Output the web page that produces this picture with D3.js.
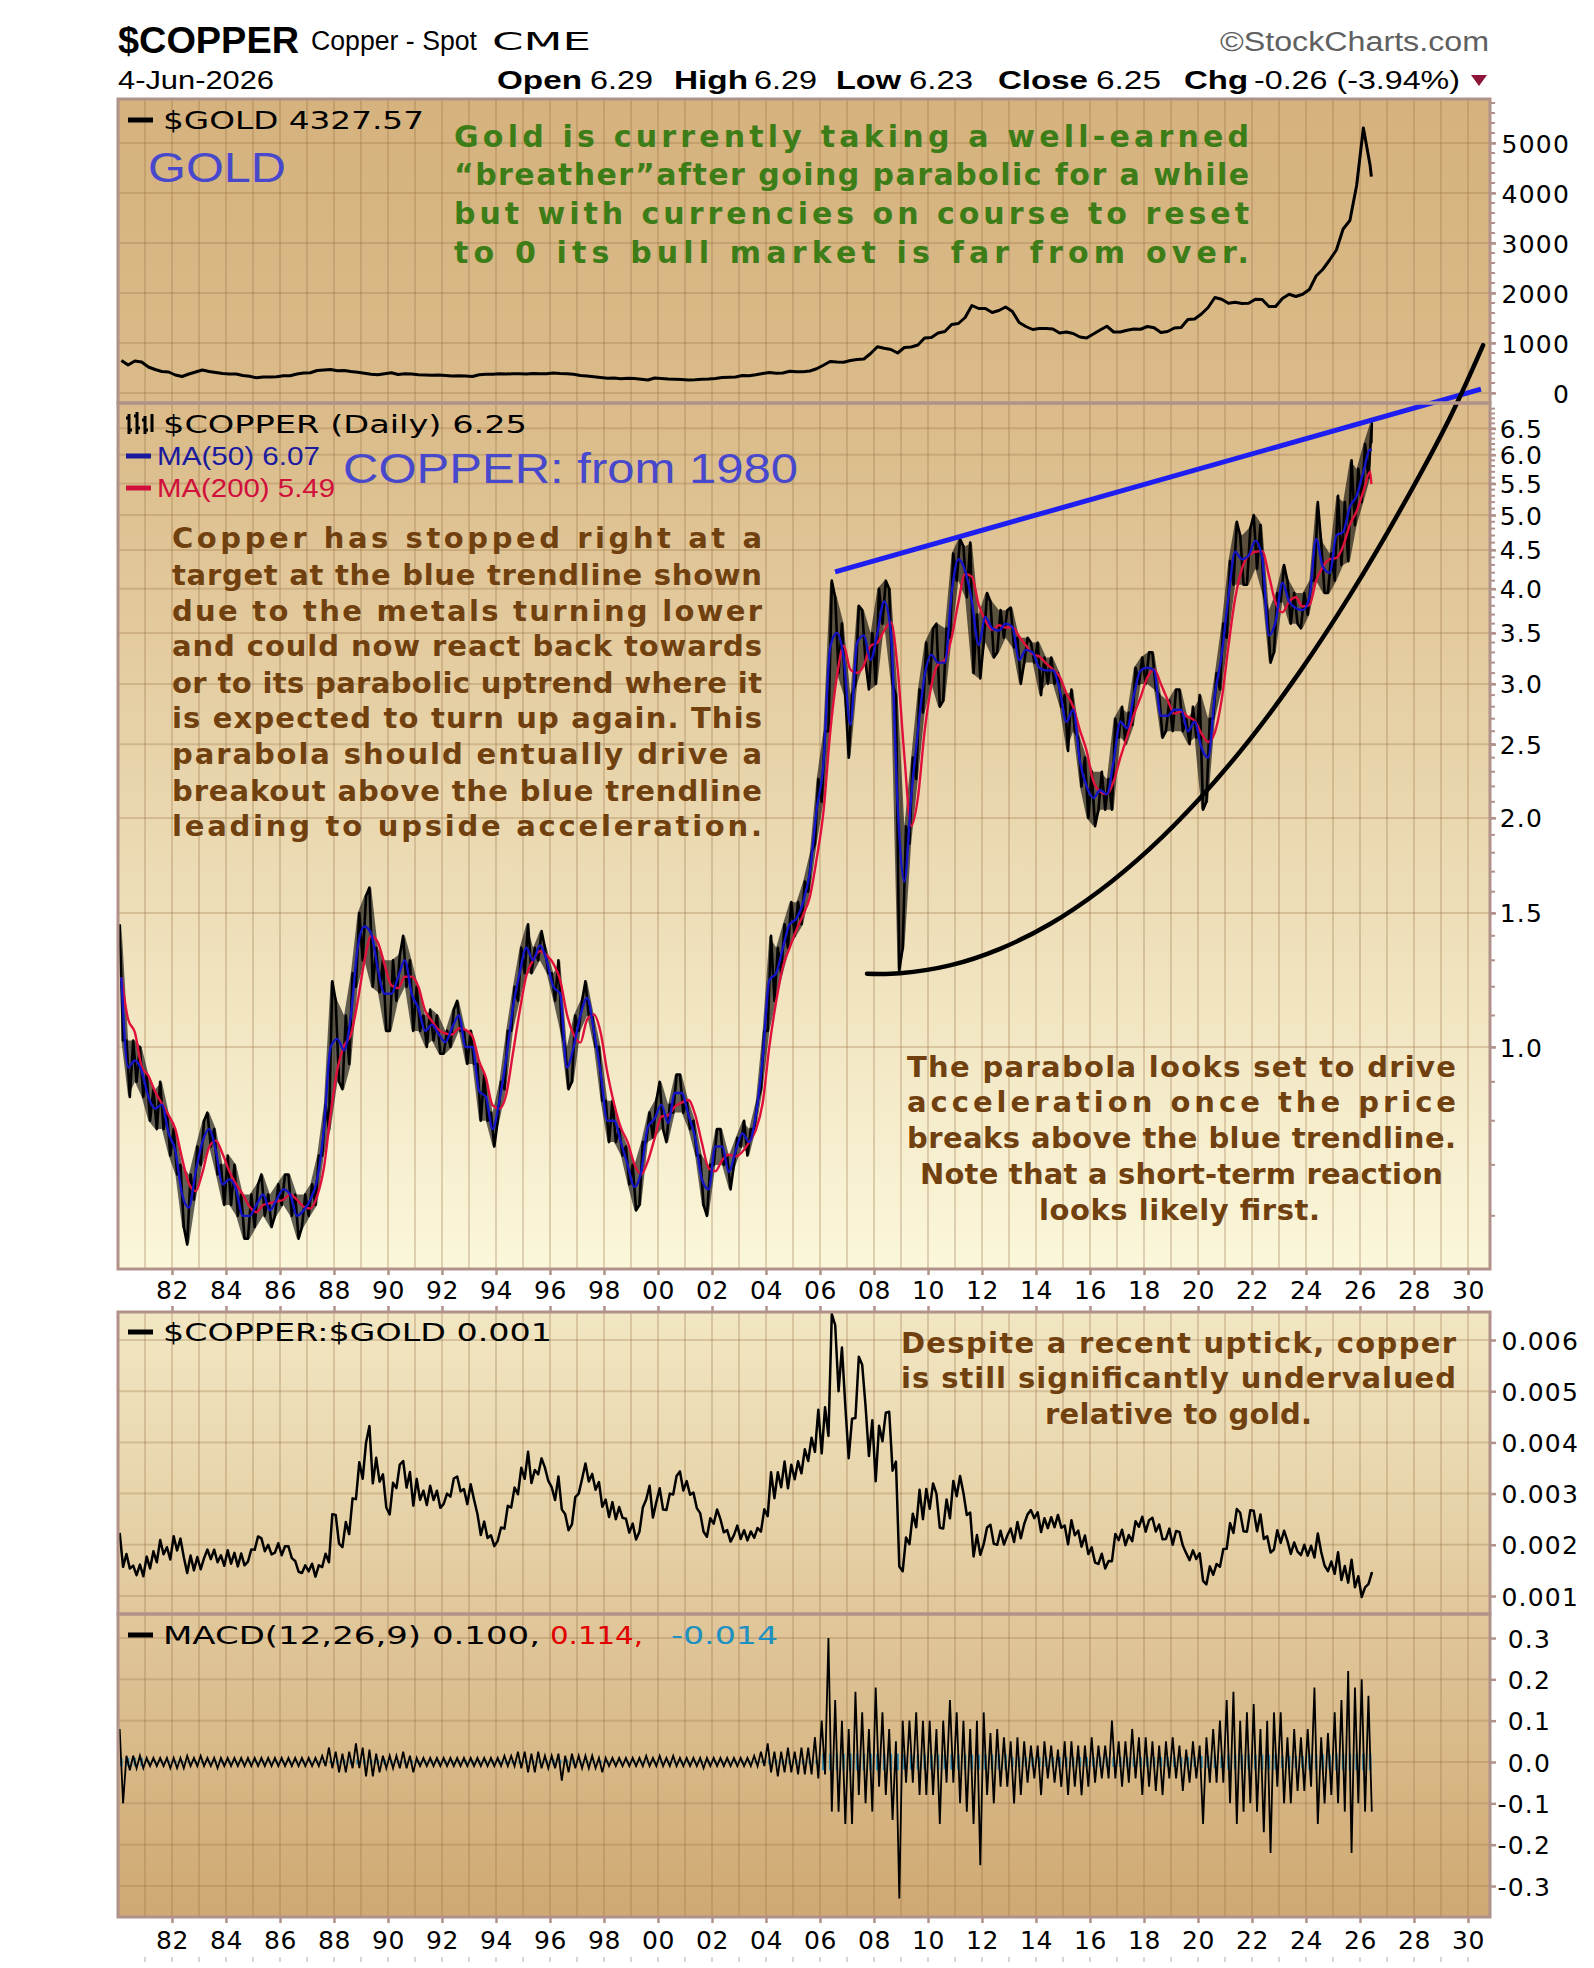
<!DOCTYPE html>
<html>
<head>
<meta charset="utf-8">
<script src="https://cdn.jsdelivr.net/npm/d3@7/dist/d3.min.js"></script>
<style>
html,body{margin:0;padding:0;background:#ffffff;}
</style>
</head>
<body>
<svg id="chart" width="1594" height="1968" xmlns="http://www.w3.org/2000/svg"></svg>
<script>
// ================= DATA =================
const firstYear = 1980;           // quarterly data, first entry = 1980 Q1
const copperLow = [
 1.02,0.86,0.90,0.86, 0.80,0.78,0.78,0.72, 0.68,0.58,0.55,0.63, 0.70,0.74,0.68,0.62, 0.62,0.60,0.56,0.56,
 0.58,0.60,0.58,0.60, 0.62,0.60,0.56,0.58, 0.60,0.62,0.72,0.78, 0.90,0.88,0.95,1.20, 1.30,1.20,1.18,1.05,
 1.05,1.15,1.20,1.05, 1.05,1.00,1.02,0.98, 0.98,1.00,1.05,0.95, 0.95,0.80,0.80,0.74, 0.80,0.88,1.05,1.15,
 1.25,1.25,1.30,1.25, 1.15,1.05,0.88,0.90, 1.05,1.10,1.00,0.85, 0.75,0.75,0.72,0.66, 0.61,0.62,0.75,0.76,
 0.78,0.75,0.82,0.82, 0.78,0.72,0.62,0.60, 0.70,0.70,0.65,0.70, 0.74,0.72,0.78,0.88, 1.05,1.15,1.25,1.35,
 1.40,1.45,1.60,1.85, 2.10,2.60,3.10,2.90, 2.40,3.00,3.20,2.95, 3.00,3.60,3.00,1.26, 1.35,1.85,2.25,2.75,
 3.00,2.80,2.85,3.45, 4.10,3.90,3.10,3.05, 3.40,3.25,3.30,3.45, 3.35,3.00,3.20,3.20, 2.90,3.00,3.00,2.80,
 2.45,2.60,2.20,2.00, 1.95,2.05,2.05,2.05, 2.55,2.50,2.65,3.00, 3.00,2.95,2.55,2.60, 2.60,2.60,2.50,2.55,
 2.05,2.10,2.70,2.95, 3.45,4.05,4.05,4.05, 4.25,3.95,3.20,3.30, 3.85,3.60,3.60,3.55, 3.70,4.10,3.95,3.95,
 4.10,4.30,4.35,4.85, 5.20,5.60
];
const copperHigh = [
 1.45,1.02,1.02,1.00, 0.92,0.88,0.90,0.82, 0.78,0.70,0.68,0.74, 0.80,0.82,0.78,0.70, 0.72,0.70,0.64,0.64,
 0.66,0.68,0.64,0.66, 0.68,0.68,0.64,0.64, 0.66,0.72,0.84,1.22, 1.15,1.10,1.25,1.50, 1.58,1.62,1.35,1.30,
 1.30,1.32,1.40,1.30, 1.20,1.10,1.12,1.10, 1.05,1.12,1.15,1.05, 1.05,0.95,0.92,0.82, 0.90,1.05,1.20,1.35,
 1.45,1.35,1.42,1.35, 1.25,1.30,1.00,1.10, 1.15,1.22,1.10,1.00, 0.85,0.85,0.78,0.74, 0.70,0.75,0.82,0.85,
 0.90,0.84,0.92,0.92, 0.85,0.80,0.72,0.70, 0.78,0.78,0.72,0.76, 0.80,0.78,0.85,1.05, 1.40,1.35,1.45,1.55,
 1.55,1.65,1.80,2.25, 2.60,4.10,3.90,3.60, 2.90,3.80,3.75,3.50, 4.00,4.10,4.00,2.90, 1.95,2.40,2.95,3.40,
 3.55,3.60,3.55,4.45, 4.65,4.55,4.60,3.70, 3.95,3.85,3.75,3.75, 3.78,3.45,3.45,3.40, 3.40,3.25,3.25,3.10,
 2.90,2.95,2.55,2.40, 2.30,2.30,2.25,2.70, 2.80,2.75,3.15,3.25, 3.30,3.30,2.90,2.85, 2.95,2.95,2.70,2.80,
 2.90,2.70,3.10,3.60, 4.35,4.90,4.70,4.80, 5.00,4.85,3.75,3.95, 4.30,4.10,3.95,3.95, 4.10,5.20,4.60,4.45,
 5.30,5.20,5.90,5.75, 6.20,6.60
];
const lastBarDate = 2026.42;            // 4-Jun-2026
const headerLabels = ["Open", "High", "Low", "Close", "Chg"];
const headerValues = ["6.29", "6.29", "6.23", "6.25", "-0.26 (-3.94%)"];
const lastLow = 6.23, lastHigh = 6.29, lastClose = 6.25;
const ma50Last = 6.07, ma200Last = 5.49;

const goldQuarterly = [
 650,560,640,620, 520,470,430,420, 360,330,380,420, 460,430,410,390, 380,380,350,335,
 305,320,320,325, 345,345,380,400, 405,450,460,470, 445,450,430,415, 395,375,365,385,
 405,370,385,380, 365,360,355,360, 350,340,345,340, 330,365,375,375, 385,380,385,385,
 380,390,385,385, 400,390,385,375, 350,340,325,310, 295,300,285,295, 290,275,260,300,
 290,280,275,268, 262,265,275,278, 290,312,315,320, 350,345,365,390, 410,395,400,435,
 427,427,440,485, 555,630,620,615, 650,670,680,790, 925,895,870,800, 910,920,960,1100,
 1110,1200,1230,1370, 1390,1510,1750,1690, 1690,1610,1650,1720, 1630,1410,1330,1270, 1290,1290,1280,1200,
 1220,1190,1120,1100, 1180,1260,1335,1220, 1220,1255,1280,1275, 1330,1305,1210,1230, 1300,1310,1470,1480,
 1580,1710,1910,1875, 1795,1815,1790,1795, 1875,1870,1730,1730, 1890,1975,1930,1975, 2070,2340,2475,2660,
 2860,3280,3450,4150, 5300,4550
];
const goldLast = 4327.57;

const macdHigh = [
 .08,.015,.015,.015, .01,.01,.01,.01, .01,.01,.015,.01, .015,.01,.01,.01, .01,.01,.01,.01,
 .01,.01,.01,.01, .01,.01,.01,.01, .01,.01,.015,.035, .025,.02,.025,.045, .035,.03,.02,.015,
 .015,.015,.025,.015, .01,.01,.01,.01, .01,.01,.01,.01, .01,.01,.01,.01, .01,.015,.015,.025,
 .025,.02,.025,.015, .015,.02,.015,.02, .015,.015,.015,.01, .01,.01,.01,.01, .01,.01,.015,.01,
 .015,.01,.015,.01, .01,.01,.01,.01, .01,.01,.01,.01, .01,.01,.015,.025, .045,.025,.025,.035,
 .025,.035,.035,.06, .10,.30,.15,.10, .08,.17,.12,.08, .18,.12,.08,.05, .10,.10,.12,.10,
 .10,.08,.10,.15, .12,.10,.08,.10, .12,.07,.08,.06, .05,.06,.05,.04, .04,.05,.04,.03,
 .05,.05,.04,.04, .06,.04,.04,.10, .05,.05,.08,.06, .06,.05,.04,.05, .06,.04,.03,.05,
 .04,.06,.08,.10, .15,.17,.10,.12, .14,.08,.10,.12, .12,.06,.08,.06, .08,.18,.06,.07,
 .12,.15,.22,.18, .20,.16
];
const macdLow = [
 -.10,-.02,-.015,-.015, -.01,-.01,-.01,-.015, -.015,-.015,-.01,-.01, -.01,-.01,-.015,-.01, -.01,-.01,-.01,-.01,
 -.01,-.01,-.01,-.01, -.01,-.01,-.01,-.01, -.01,-.01,-.01,-.015, -.025,-.025,-.015,-.015, -.035,-.035,-.025,-.015,
 -.015,-.015,-.015,-.025, -.01,-.01,-.01,-.01, -.01,-.01,-.01,-.01, -.01,-.01,-.01,-.01, -.01,-.01,-.01,-.015,
 -.025,-.025,-.015,-.015, -.015,-.045,-.025,-.015, -.015,-.015,-.015,-.025, -.01,-.01,-.01,-.01, -.01,-.01,-.01,-.01,
 -.01,-.01,-.01,-.01, -.01,-.01,-.015,-.01, -.01,-.01,-.01,-.01, -.01,-.01,-.01,-.01, -.025,-.035,-.025,-.025,
 -.03,-.03,-.03,-.04, -.03,-.12,-.12,-.15, -.15,-.08,-.10,-.12, -.06,-.08,-.14,-.33, -.05,-.05,-.08,-.08,
 -.08,-.15,-.05,-.05, -.10,-.12,-.15,-.25, -.08,-.10,-.06,-.06, -.10,-.08,-.05,-.04, -.08,-.04,-.05,-.06,
 -.08,-.06,-.08,-.06, -.05,-.04,-.04,-.04, -.06,-.05,-.04,-.08, -.06,-.07,-.08,-.04, -.04,-.07,-.05,-.04,
 -.15,-.05,-.05,-.05, -.10,-.15,-.12,-.10, -.12,-.17,-.22,-.06, -.10,-.10,-.07,-.07, -.06,-.15,-.10,-.08,
 -.10,-.12,-.22,-.10, -.12,-.12
];
const macdHistAmp = [ // one value per year 1980..2026
 .01,.003,.003,.003,.003,.003,.003,.003,.006,.006,
 .004,.004,.004,.004,.004,.004,.006,.003,.003,.003,
 .003,.003,.003,.003,.006,.006,.02,.02,.02,.018,
 .018,.018,.018,.012,.012,.012,.012,.012,.012,.012,
 .015,.018,.018,.015,.018,.02,.02
];
const macdLegend = ["MACD(12,26,9) 0.100,", "0.114,", "-0.014"];

const xTickYears = [1982,1984,1986,1988,1990,1992,1994,1996,1998,2000,2002,2004,2006,2008,2010,2012,2014,2016,2018,2020,2022,2024,2026,2028,2030];
const goldTicks = [0,1000,2000,3000,4000,5000];
const copperTicks = [1.0,1.5,2.0,2.5,3.0,3.5,4.0,4.5,5.0,5.5,6.0,6.5];
const ratioTicks = [0.001,0.002,0.003,0.004,0.005,0.006];
const macdTicks = [-0.3,-0.2,-0.1,0.0,0.1,0.2,0.3];

// hand-drawn annotation lines (date, price)
const trendDates = [2006.56, 2030.48];
const trendPrices = [4.21, 7.32];
const parabolaDates  = [2007.74,2008.96,2010.81,2012.67,2014.52,2016.37,2018.22,2020.07,2021.93,2023.78,2025.63,2027.48,2029.33,2030.56];
const parabolaPrices = [1.248,1.250,1.280,1.346,1.451,1.606,1.823,2.123,2.539,3.116,3.924,5.068,6.714,8.36];

const goldNote = ["Gold is currently taking a well-earned",
 "\u201Cbreather\u201Dafter going parabolic for a while",
 "but with currencies on course to reset",
 "to 0 its bull market is far from over."];
const copperNote = ["Copper has stopped right at a",
 "target at the blue trendline shown",
 "due to the metals turning lower",
 "and could now react back towards",
 "or to its parabolic uptrend where it",
 "is expected to turn up again. This",
 "parabola should entually drive a",
 "breakout above the blue trendline",
 "leading to upside acceleration."];
const parabolaNote = ["The parabola looks set to drive",
 "acceleration once the price",
 "breaks above the blue trendline.",
 "Note that a short-term reaction",
 "looks likely first."];
const ratioNote = ["Despite a recent uptick, copper",
 "is still significantly undervalued",
 "relative to gold."];

// ================= LAYOUT =================
const L = 118, R = 1490;
const PG = [99, 403], PC = [403, 1269], PR = [1312, 1614], PM = [1614, 1917];
const BORDER = "#B0928A", GRID = "rgba(150,110,70,0.28)";

const svg = d3.select("#chart");
const x = d3.scaleLinear().domain([1982, 2030]).range([172, 1468]);
const yGold = d3.scaleLinear().domain([0, 5000]).range([393, 143]);
const yCu = d3.scaleLog().domain([1, 6.5]).range([1047, 1047 - 761 * Math.log10(6.5)]);
const yRatio = d3.scaleLinear().domain([0.001, 0.006]).range([1596, 1340]);
const yMacd = d3.scaleLinear().domain([-0.3, 0.3]).range([1886, 1638]);

const qt = i => firstYear + i * 0.25 + 0.125;

// records
const cu = copperLow.map((lo, i) => ({t: qt(i), lo, hi: copperHigh[i], mid: (lo + copperHigh[i]) / 2, g: goldQuarterly[i]}));
const cuBand = cu.concat([{t: lastBarDate, lo: lastLow, hi: lastHigh, mid: lastClose, g: goldLast}]);
const ma50 = cu.map(d => ({t: d.t, v: d.mid})).concat([{t: lastBarDate, v: ma50Last}]);
const ma200 = cu.map((d, i) => {
  const s = cu.slice(Math.max(0, i - 2), i + 1);
  return {t: d.t, v: d3.mean(s, e => e.mid)};
}).concat([{t: lastBarDate, v: ma200Last}]);
const gold = goldQuarterly.map((v, i) => ({t: qt(i), v})).concat([{t: lastBarDate, v: goldLast}]);

// zig-zag order inside each quarter follows the direction of the move (low->high when rising)
function zig(rows, fLo, fHi) {
  const pts = [];
  rows.forEach((d, i) => {
    const prev = rows[Math.max(0, i - 1)], next = rows[Math.min(rows.length - 1, i + 1)];
    const up = next.mid >= prev.mid;
    const a = up ? fLo(d) : fHi(d), b = up ? fHi(d) : fLo(d);
    if (i === rows.length - 1) { pts.push([d.t, a]); pts.push([d.t, b]); }
    else { pts.push([d.t - 0.0625, a]); pts.push([d.t + 0.0625, b]); }
  });
  return pts;
}
const cuZig = zig(cuBand, d => d.lo, d => d.hi);
const ratioZig = zig(cuBand, d => d.lo / d.g, d => d.hi / d.g);

// ================= DEFS =================
const defs = svg.append("defs");
function grad(id, y1, y2, stops) {
  const g = defs.append("linearGradient").attr("id", id).attr("gradientUnits", "userSpaceOnUse")
    .attr("x1", 0).attr("x2", 0).attr("y1", y1).attr("y2", y2);
  stops.forEach(s => g.append("stop").attr("offset", s[0]).attr("stop-color", s[1]));
}
grad("gUp", PG[0], PC[1], [[0, "#D5B27E"], [0.28, "#DBBC8A"], [1, "#FBF7DA"]]);
grad("gLow", PR[0], PM[1], [[0, "#F2E7C3"], [1, "#CFA872"]]);
function clip(id, y0, y1) {
  defs.append("clipPath").attr("id", id).append("rect").attr("x", L).attr("y", y0).attr("width", R - L).attr("height", y1 - y0);
}
clip("cG", PG[0], PG[1]); clip("cC", PC[0], PC[1]); clip("cR", PR[0], PR[1]); clip("cM", PM[0], PM[1]);

// ================= BACKGROUNDS & GRID =================
svg.append("rect").attr("x", L).attr("y", PG[0]).attr("width", R - L).attr("height", PC[1] - PG[0]).attr("fill", "url(#gUp)");
svg.append("rect").attr("x", L).attr("y", PR[0]).attr("width", R - L).attr("height", PM[1] - PR[0]).attr("fill", "url(#gLow)");

const gridYears = d3.range(1981, 2031);
function vgrid(y0, y1) {
  svg.append("g").selectAll("line").data(gridYears).join("line")
    .attr("x1", d => x(d)).attr("x2", d => x(d)).attr("y1", y0).attr("y2", y1)
    .attr("stroke", GRID).attr("stroke-width", 2);
}
function hgrid(vals, scale) {
  svg.append("g").selectAll("line").data(vals).join("line")
    .attr("x1", L).attr("x2", R).attr("y1", d => scale(d)).attr("y2", d => scale(d))
    .attr("stroke", GRID).attr("stroke-width", 2);
}
[PG, PC, PR, PM].forEach(p => vgrid(p[0], p[1]));
hgrid(goldTicks, yGold); hgrid(copperTicks, yCu); hgrid(ratioTicks, yRatio); hgrid(macdTicks, yMacd);

// ================= SERIES =================
const lineG = d3.line().x(d => x(d.t)).y(d => yGold(d.v));
svg.append("path").datum(gold).attr("clip-path", "url(#cG)").attr("d", lineG)
  .attr("fill", "none").attr("stroke", "#000").attr("stroke-width", 3).attr("stroke-linejoin", "round");

const gC = svg.append("g").attr("clip-path", "url(#cC)");
const areaCu = d3.area().x(d => x(d.t)).y0(d => yCu(d.lo)).y1(d => yCu(d.hi));
gC.append("path").datum(cuBand).attr("d", areaCu).attr("fill", "#000").attr("fill-opacity", 0.6);
gC.append("path").datum(cuZig).attr("d", d3.line().x(d => x(d[0])).y(d => yCu(d[1])))
  .attr("fill", "none").attr("stroke", "#000").attr("stroke-width", 2.6).attr("stroke-linejoin", "round");
const lineCu = d3.line().x(d => x(d.t)).y(d => yCu(d.v)).curve(d3.curveMonotoneX);
gC.append("path").datum(ma200).attr("d", lineCu).attr("fill", "none").attr("stroke", "#E0103C").attr("stroke-width", 2.4);
gC.append("path").datum(ma50).attr("d", lineCu).attr("fill", "none").attr("stroke", "#1414C8").attr("stroke-width", 2.4);

svg.append("path").datum(ratioZig).attr("clip-path", "url(#cR)")
  .attr("d", d3.line().x(d => x(d[0])).y(d => yRatio(d[1])))
  .attr("fill", "none").attr("stroke", "#000").attr("stroke-width", 2.5).attr("stroke-linejoin", "round");

// MACD: teal histogram + black zig-zag envelope
const gM = svg.append("g").attr("clip-path", "url(#cM)");
const histBars = cu.map((d, i) => ({t: d.t, a: macdHistAmp[Math.floor(i / 4)]}));
gM.selectAll("line.h").data(histBars).join("line").attr("class", "h")
  .attr("x1", d => x(d.t)).attr("x2", d => x(d.t)).attr("y1", d => yMacd(-d.a)).attr("y2", d => yMacd(d.a))
  .attr("stroke", "#2A8FB8").attr("stroke-width", 2.5);
const macdPts = [];
macdHigh.forEach((h, i) => { macdPts.push([qt(i) - 0.0625, h]); macdPts.push([qt(i) + 0.0625, macdLow[i]]); });
gM.append("path").datum(macdPts).attr("d", d3.line().x(d => x(d[0])).y(d => yMacd(d[1])))
  .attr("fill", "none").attr("stroke", "#000").attr("stroke-width", 1.8);

// ================= TREND LINE & PARABOLA =================
const trend = trendDates.map((t, i) => ({t, v: trendPrices[i]}));
svg.append("path").datum(trend).attr("d", d3.line().x(d => x(d.t)).y(d => yCu(d.v)))
  .attr("stroke", "#1E1EF0").attr("stroke-width", 5).attr("fill", "none");
const para = parabolaDates.map((t, i) => ({t, v: parabolaPrices[i]}));
svg.append("path").datum(para).attr("d", d3.line().x(d => x(d.t)).y(d => yCu(d.v)).curve(d3.curveCatmullRom))
  .attr("stroke", "#000").attr("stroke-width", 4.5).attr("fill", "none").attr("stroke-linecap", "round");

// ================= BORDERS =================
[PG, PC, PR, PM].forEach(p => svg.append("rect").attr("x", L).attr("y", p[0]).attr("width", R - L).attr("height", p[1] - p[0])
  .attr("fill", "none").attr("stroke", BORDER).attr("stroke-width", 3));

// ================= AXES =================
const AX_FONT = "DejaVu Sans";
function rightAxis(scale, ticks, fmt, labelRight, minor) {
  const g = svg.append("g").attr("transform", `translate(${R},0)`)
    .call(d3.axisRight(scale).tickValues(ticks).tickSize(6).tickFormat(fmt));
  g.select(".domain").remove();
  g.selectAll(".tick line").attr("stroke", BORDER).attr("stroke-width", 2.5);
  g.selectAll(".tick text").attr("x", labelRight - R).attr("text-anchor", "end")
    .attr("font-family", AX_FONT).attr("font-size", 25).attr("letter-spacing", 1.2).attr("fill", "#000").attr("dy", "0.36em");
  if (minor) {
    svg.append("g").selectAll("line").data(minor).join("line")
      .attr("x1", R).attr("x2", R + 5).attr("y1", d => scale(d)).attr("y2", d => scale(d))
      .attr("stroke", BORDER).attr("stroke-width", 2);
  }
}
rightAxis(yGold, goldTicks, d3.format("d"), 1570, d3.range(-200, 5900, 200).filter(v => yGold(v) > PG[0] && yGold(v) < PG[1]));
rightAxis(yCu, copperTicks, d => d.toFixed(1), 1543, d3.range(6, 71).map(v => v / 10).filter(v => yCu(v) > PC[0] + 2 && yCu(v) < PC[1]));
rightAxis(yRatio, ratioTicks, d => d.toFixed(3), 1579, null);
rightAxis(yMacd, macdTicks, d => d.toFixed(1), 1551, null);

function bottomAxis(yPos, labelCenter, topTicksAt) {
  const g = svg.append("g").attr("transform", `translate(0,${yPos})`)
    .call(d3.axisBottom(x).tickValues(xTickYears).tickSize(6).tickFormat(d => String(d % 100).padStart(2, "0")));
  g.select(".domain").remove();
  g.selectAll(".tick line").attr("stroke", BORDER).attr("stroke-width", 2.5);
  g.selectAll(".tick text").attr("y", labelCenter - yPos).attr("dy", "0.36em")
    .attr("font-family", AX_FONT).attr("font-size", 25).attr("letter-spacing", 0.5).attr("fill", "#000");
  if (topTicksAt) {
    const g2 = svg.append("g").attr("transform", `translate(0,${topTicksAt})`)
      .call(d3.axisTop(x).tickValues(xTickYears).tickSize(6).tickFormat(""));
    g2.select(".domain").remove();
    g2.selectAll(".tick line").attr("stroke", BORDER).attr("stroke-width", 2.5);
  }
}
bottomAxis(PC[1], 1290, PR[0]);
bottomAxis(PM[1], 1940, null);
svg.append("g").selectAll("line").data(gridYears).join("line")
  .attr("x1", d => x(d)).attr("x2", d => x(d)).attr("y1", 1957).attr("y2", 1962)
  .attr("stroke", "#c8c8c8").attr("stroke-width", 1.5);

// ================= TEXT =================
function txt(str, o) {
  const t = svg.append("text")
    .attr("x", o.x).attr("y", o.y + 0.36 * o.size)
    .attr("font-family", o.family || "DejaVu Sans")
    .attr("font-size", o.size).attr("font-weight", o.weight || "normal")
    .attr("fill", o.fill || "#000").attr("text-anchor", o.anchor || "start")
    .text(str);
  if (o.w) t.attr("textLength", o.w).attr("lengthAdjust", o.adjust || "spacingAndGlyphs");
  return t;
}
function dash(x0, x1, y, color) {
  svg.append("line").attr("x1", x0).attr("x2", x1).attr("y1", y).attr("y2", y).attr("stroke", color).attr("stroke-width", 5);
}

// header
txt("$COPPER", {x: 118, y: 40, size: 37, weight: "bold", family: "Liberation Sans", w: 181});
txt("Copper - Spot", {x: 311, y: 40, size: 27, family: "Liberation Sans", w: 166});
txt("CME", {x: 492, y: 41, size: 24, family: "DejaVu Sans", w: 99});
txt("\u00A9StockCharts.com", {x: 1220, y: 41, size: 27, family: "Liberation Sans", fill: "#606060", w: 269});
txt("4-Jun-2026", {x: 118, y: 80, size: 25, family: "Liberation Sans", w: 156});
const hdrLab = [[497, 85], [674, 74], [836, 65], [998, 90], [1184, 64]];
const hdrVal = [[590, 63], [754, 63], [909, 64], [1096, 65], [1254, 206]];
headerLabels.forEach((s, i) => txt(s, {x: hdrLab[i][0], y: 80, size: 26, weight: "bold", family: "Liberation Sans", w: hdrLab[i][1]}));
headerValues.forEach((s, i) => txt(s, {x: hdrVal[i][0], y: 80, size: 25, family: "Liberation Sans", w: hdrVal[i][1]}));
svg.append("path").attr("d", "M1471,75 L1487,75 L1479,86 Z").attr("fill", "#8E1538");

// gold panel
dash(128, 153, 120, "#000");
txt("$GOLD 4327.57", {x: 163, y: 120, size: 25, w: 261});
txt("GOLD", {x: 148, y: 167, size: 42, family: "Liberation Sans", fill: "#4848CC", w: 138});
goldNote.forEach((s, i) => txt(s, {x: 454, y: [136, 174, 213, 252][i], size: 30, weight: "bold", fill: "#3C7D18", w: 795, adjust: "spacing"}));

// copper panel legend
svg.append("path").attr("d", "M129,414v20 M126,418h3 M129,430h3 M137,412v22 M134,416h3 M137,428h3 M145,416v18 M142,420h3 M145,430h3 M152,414v18")
  .attr("stroke", "#000").attr("stroke-width", 3).attr("fill", "none");
txt("$COPPER (Daily) 6.25", {x: 163, y: 424, size: 25, w: 364});
dash(126, 151, 456, "#1A1A9C");
txt("MA(50) 6.07", {x: 157, y: 456, size: 25, family: "Liberation Sans", fill: "#1A1A9C", w: 163});
dash(126, 151, 488, "#D0103A");
txt("MA(200) 5.49", {x: 157, y: 488, size: 25, family: "Liberation Sans", fill: "#D0103A", w: 178});
txt("COPPER: from 1980", {x: 343, y: 468, size: 42, family: "Liberation Sans", fill: "#4848CC", w: 455});
const cuNoteY = [538, 575, 611, 646, 683, 718, 754, 791, 826];
copperNote.forEach((s, i) => txt(s, {x: 172, y: cuNoteY[i], size: 29, weight: "bold", fill: "#70400F", w: 590, adjust: "spacing"}));
const pnX = [[907, 549], [907, 549], [907, 549], [920, 523], [1039, 281]];
const pnY = [1067, 1102, 1138, 1174, 1210];
parabolaNote.forEach((s, i) => txt(s, {x: pnX[i][0], y: pnY[i], size: 29, weight: "bold", fill: "#70400F", w: pnX[i][1], adjust: "spacing"}));

// ratio panel
dash(128, 153, 1332, "#000");
txt("$COPPER:$GOLD 0.001", {x: 163, y: 1332, size: 25, w: 389});
const rnX = [[901, 555], [901, 555], [1045, 267]];
ratioNote.forEach((s, i) => txt(s, {x: rnX[i][0], y: [1343, 1378, 1414][i], size: 29, weight: "bold", fill: "#70400F", w: rnX[i][1], adjust: "spacing"}));

// macd panel
dash(128, 153, 1635, "#000");
txt(macdLegend[0], {x: 163, y: 1635, size: 25, w: 377});
txt(macdLegend[1], {x: 550, y: 1635, size: 25, fill: "#E00000", w: 93});
txt(macdLegend[2], {x: 671, y: 1635, size: 25, fill: "#2090C0", w: 107});
</script>
</body>
</html>
